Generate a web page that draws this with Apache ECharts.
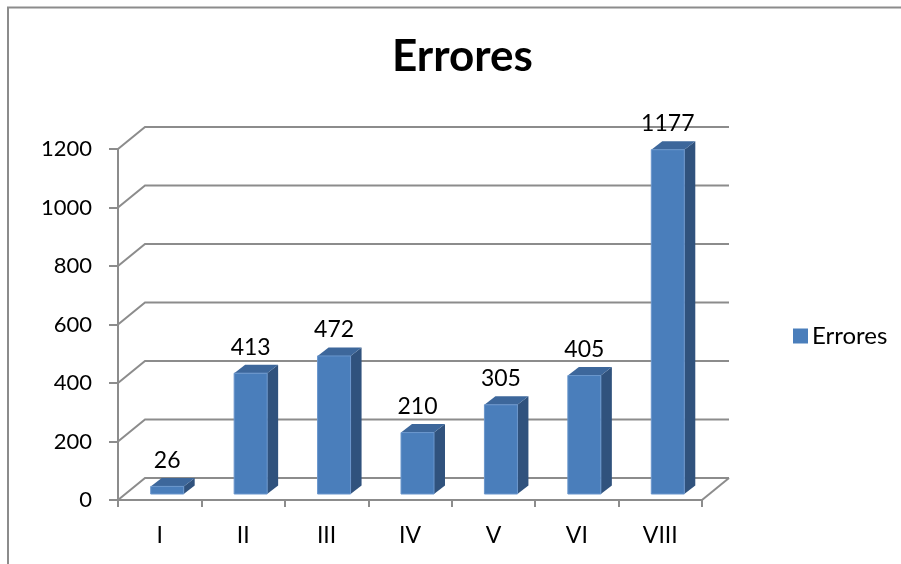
<!DOCTYPE html>
<html>
<head>
<meta charset="utf-8">
<script src="https://cdn.jsdelivr.net/npm/echarts@6/dist/echarts.min.js"></script>
<style>
html,body{margin:0;padding:0;background:#fff;}
#chart{width:901px;height:564px;}
</style>
</head>
<body>
<div id="chart"></div>
<script>
// ---- data ----
var categories = ['I', 'II', 'III', 'IV', 'V', 'VI', 'VIII'];
var values = [26, 413, 472, 210, 305, 405, 1177];
var yTicks = [0, 200, 400, 600, 800, 1000, 1200];
var seriesName = 'Errores';
var titleText = 'Errores';

// ---- style constants ----
var WALL = [27, -22];       // depth of the back wall
var BAR_SHIFT = [7.5, -6];  // bar front plane offset from front plane
var BAR_DEPTH = [11, -8.5];
var BAR_W = 33;
var GRID_COLOR = '#8c8c8c';
var FRONT = '#4a7ebb', SIDE = '#30527d', TOP = '#3d679b';
var FONT = 'Lato';

var chart = echarts.init(document.getElementById('chart'), null, {renderer: 'canvas'});

function wallItem(params, api) {
  var cs = params.coordSys;
  var v = api.value(0);
  var y = api.coord([0, v])[1];
  var x0 = cs.x, x1 = cs.x + cs.width;
  var children = [{
    type: 'polyline',
    shape: {points: [[x0, y], [x0 + WALL[0], y + WALL[1]], [x1 + WALL[0], y + WALL[1]]]},
    style: {stroke: GRID_COLOR, lineWidth: 2, fill: null}
  }];
  if (v === 0) {
    children.push({
      type: 'line',
      shape: {x1: x1, y1: y, x2: x1 + WALL[0], y2: y + WALL[1]},
      style: {stroke: GRID_COLOR, lineWidth: 2}
    });
  }
  return {type: 'group', children: children};
}

function barItem(params, api) {
  var idx = api.value(0);
  var v = api.value(1);
  var top = api.coord([idx, v]);
  var base = api.coord([idx, 0]);
  var cx = top[0] + BAR_SHIFT[0];
  var yt = top[1] + BAR_SHIFT[1];
  var yb = base[1] + BAR_SHIFT[1];
  var xl = cx - BAR_W / 2, xr = cx + BAR_W / 2;
  var dx = BAR_DEPTH[0], dy = BAR_DEPTH[1];
  return {
    type: 'group',
    children: [
      {type: 'polygon', shape: {points: [[xr, yt], [xr + dx, yt + dy], [xr + dx, yb + dy], [xr, yb]]},
        style: {fill: SIDE}},
      {type: 'polygon', shape: {points: [[xl, yt], [xl + dx, yt + dy], [xr + dx, yt + dy], [xr, yt]]},
        style: {fill: TOP}},
      {type: 'rect', shape: {x: xl, y: yt, width: BAR_W, height: yb - yt},
        style: {fill: FRONT, stroke: '#6a96cc', lineWidth: 1}},
      {type: 'text', x: cx, y: yt - 26,
        style: {text: String(v), fill: '#000', fontSize: 23, fontFamily: FONT,
          align: 'center', verticalAlign: 'middle', textAlign: 'center', textVerticalAlign: 'middle'}}
    ]
  };
}

var option = {
  animation: false,
  backgroundColor: '#fff',
  title: {
    text: titleText,
    left: 387,
    top: 30,
    textStyle: {fontFamily: FONT, fontWeight: 'bold', fontSize: 44, color: '#000'}
  },
  legend: {
    data: [{name: seriesName, icon: 'rect'}],
    left: 788,
    top: 319,
    itemWidth: 15,
    itemHeight: 15,
    textStyle: {fontFamily: FONT, fontSize: 24, color: '#000', padding: [0, 0, 0, -1]}
  },
  grid: {left: 118, right: 199, top: 149, bottom: 64, containLabel: false},
  xAxis: {
    type: 'category',
    data: categories,
    boundaryGap: true,
    axisLine: {show: true, lineStyle: {color: GRID_COLOR, width: 2}},
    axisTick: {show: true, length: 7, lineStyle: {color: GRID_COLOR, width: 2}},
    axisLabel: {margin: 24, fontFamily: FONT, fontSize: 23, color: '#000'},
    splitLine: {show: false}
  },
  yAxis: {
    type: 'value',
    min: 0, max: 1200, interval: 200,
    axisLine: {show: true, lineStyle: {color: GRID_COLOR, width: 2}},
    axisTick: {show: true, length: 9, lineStyle: {color: GRID_COLOR, width: 2}},
    axisLabel: {margin: 26, fontFamily: FONT, fontSize: 22, color: '#000',
      formatter: function (v) { return String(v); }},
    splitLine: {show: false}
  },
  series: [
    {
      type: 'custom',
      name: 'walls',
      silent: true,
      z: 1,
      renderItem: wallItem,
      data: yTicks.map(function (t) { return [t]; }),
      encode: {y: 0}
    },
    {
      type: 'custom',
      name: seriesName,
      z: 3,
      itemStyle: {color: FRONT},
      renderItem: barItem,
      data: values.map(function (v, i) { return [i, v]; }),
      encode: {x: 0, y: 1}
    }
  ],
  graphic: [
    {type: 'polyline', silent: true, z: 0,
      shape: {points: [[8, 564], [8, 7.5], [901, 7.5]]},
      style: {stroke: '#8c8c8c', lineWidth: 2, fill: null}}
  ]
};
chart.setOption(option);
</script>
</body>
</html>
